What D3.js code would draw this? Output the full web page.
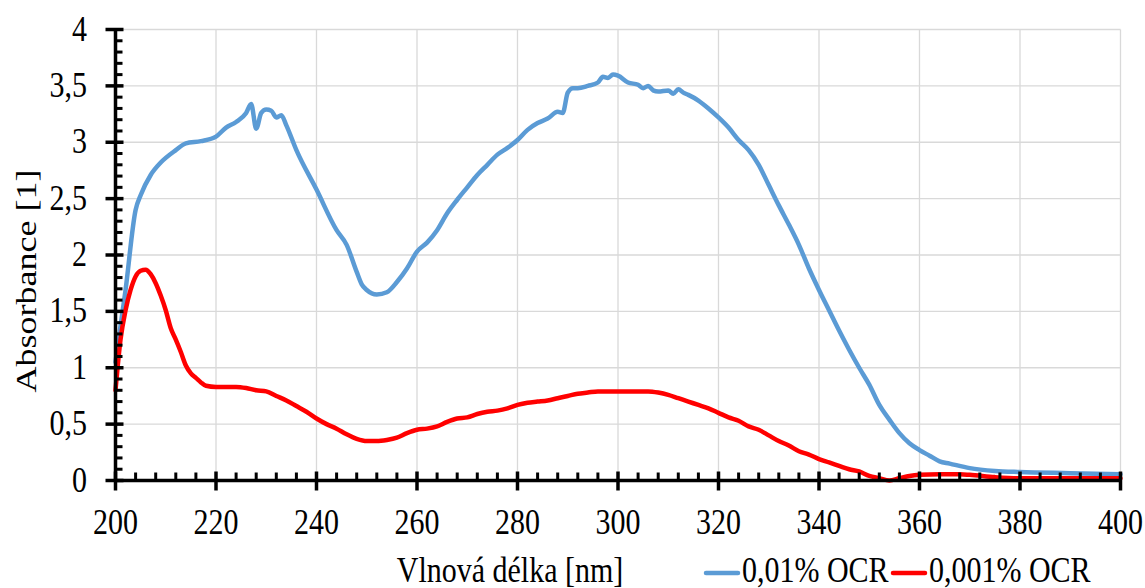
<!DOCTYPE html>
<html><head><meta charset="utf-8">
<script src="https://cdn.jsdelivr.net/npm/d3@7"></script>
<style>
html,body{margin:0;padding:0;background:#fff;}
</style></head>
<body><svg id="c" width="1145" height="588"></svg>
<script>
const wlBlue = [200,202,204,205,207,209,212,214,217,220,222,224,226,227,228,229,230,231,232,233,234,236,240,244,246,248,249,250,252,254,256,258,260,262,264,266,268,270,272,274,276,278,280,282,284,286,288,289,290,291,292,294,296,297,298,299,300,302,304,305,306,307,308,310,311,312,313,314,316,318,320,322,324,326,328,330,332,334,336,338,340,342,344,346,348,350,352,354,356,358,360,362,364,366,370,375,380,390,400];
const absBlue = [1.05,1.69,2.4,2.53,2.71,2.82,2.93,2.99,3.01,3.05,3.13,3.18,3.26,3.34,3.12,3.26,3.29,3.28,3.22,3.24,3.15,2.93,2.58,2.22,2.09,1.85,1.74,1.69,1.65,1.67,1.76,1.88,2.03,2.11,2.22,2.37,2.49,2.60,2.71,2.80,2.89,2.95,3.02,3.11,3.17,3.21,3.27,3.26,3.44,3.48,3.48,3.50,3.53,3.58,3.57,3.60,3.59,3.53,3.51,3.48,3.50,3.46,3.45,3.46,3.43,3.47,3.44,3.42,3.37,3.30,3.22,3.13,3.02,2.93,2.80,2.62,2.44,2.27,2.09,1.88,1.69,1.51,1.33,1.16,1.0,0.85,0.67,0.54,0.42,0.33,0.27,0.22,0.17,0.15,0.11,0.085,0.075,0.065,0.055];
const wlRed = [200,201,202,203,204,205,206,207,208,209,210,211,212,213,214,215,216,217,218,220,224,226,228,230,232,234,236,238,240,242,244,246,248,250,252,254,256,258,260,262,264,266,268,270,272,274,276,278,280,282,284,286,288,290,292,294,296,298,300,302,304,306,308,310,312,314,316,318,320,322,324,326,328,330,332,334,336,338,340,342,344,346,348,350,352,354,356,358,360,364,368,370,375,380,390,400];
const absRed = [0.8,1.25,1.51,1.69,1.81,1.86,1.87,1.83,1.75,1.64,1.51,1.35,1.25,1.14,1.02,0.95,0.91,0.87,0.84,0.83,0.83,0.82,0.80,0.79,0.75,0.71,0.66,0.61,0.55,0.50,0.46,0.41,0.37,0.35,0.35,0.36,0.38,0.42,0.45,0.46,0.48,0.52,0.55,0.56,0.59,0.61,0.62,0.64,0.67,0.69,0.70,0.71,0.73,0.75,0.77,0.78,0.79,0.79,0.79,0.79,0.79,0.79,0.78,0.76,0.73,0.70,0.67,0.64,0.60,0.56,0.53,0.48,0.45,0.40,0.35,0.31,0.26,0.23,0.19,0.16,0.13,0.10,0.08,0.04,0.02,0.0,0.02,0.04,0.05,0.055,0.055,0.05,0.03,0.02,0.02,0.02];
const xTicks = [200,220,240,260,280,300,320,340,360,380,400];
const yTicks = [0,0.5,1,1.5,2,2.5,3,3.5,4];
const seriesNames = ["0,01% OCR","0,001% OCR"];
const seriesColors = ["#5B9BD5","#FF0000"];
const xTitle = "Vlnová délka [nm]";
const yTitle = "Absorbance [1]";

const svg = d3.select("#c");
const L=115.5, R=1120.5, T=29.5, B=480.5;
const x = d3.scaleLinear().domain([200,400]).range([L,R]);
const y = d3.scaleLinear().domain([0,4]).range([B,T]);
const fmt = v => String(v).replace(".", ",");
const SY = 1.2; // vertical stretch of the reference's lettering

function label(g, tx, ty, str, anchor, rot){
  return g.append("text")
    .attr("transform", `translate(${tx},${ty})` + (rot?" rotate(-90) scale("+SY+",1)":" scale(1,"+SY+")"))
    .attr("text-anchor", anchor)
    .style("font-family","'Liberation Serif'")
    .style("font-size","30px").style("fill","#000").text(str);
}

// grid
svg.append("g").selectAll("line").data(xTicks.slice(1)).join("line")
  .attr("x1",d=>x(d)).attr("x2",d=>x(d)).attr("y1",T).attr("y2",B)
  .attr("stroke","#d9d9d9").attr("stroke-width",1.3);
svg.append("g").selectAll("line").data(yTicks.slice(1)).join("line")
  .attr("x1",L).attr("x2",R).attr("y1",d=>y(d)).attr("y2",d=>y(d))
  .attr("stroke","#d9d9d9").attr("stroke-width",1.3);

// series
const line = d3.line().x(d=>x(d[0])).y(d=>y(d[1])).curve(d3.curveMonotoneX);
const blue = wlBlue.map((w,i)=>[w,absBlue[i]]);
const red = wlRed.map((w,i)=>[w,absRed[i]]);
[blue, red].forEach((s,i)=>{
  svg.append("path").datum(s).attr("d",line).attr("fill","none")
    .attr("stroke",seriesColors[i]).attr("stroke-width",4.5)
    .attr("stroke-linejoin","round").attr("stroke-linecap","round");
});

// axes
const yMinor = d3.range(0,4.0001,0.1).filter(v=>Math.abs(v*2-Math.round(v*2))>1e-6);
const xMinor = d3.range(200,400.001,4).filter(v=>v%20!==0);
const ax = svg.append("g").attr("stroke","#000");
ax.append("line").attr("x1",L).attr("x2",L).attr("y1",T-1).attr("y2",B+1.5).attr("stroke-width",3.5);
ax.append("line").attr("x1",L-1.5).attr("x2",R+1).attr("y1",B).attr("y2",B).attr("stroke-width",3.5);
ax.selectAll(".ym").data(yTicks).join("line").attr("x1",L-10).attr("x2",L+8)
  .attr("y1",d=>y(d)).attr("y2",d=>y(d)).attr("stroke-width",3.5);
ax.selectAll(".yn").data(yMinor).join("line").attr("x1",L).attr("x2",L+7)
  .attr("y1",d=>y(d)).attr("y2",d=>y(d)).attr("stroke-width",3);
ax.selectAll(".xm").data(xTicks).join("line").attr("y1",B-9).attr("y2",B+10)
  .attr("x1",d=>x(d)).attr("x2",d=>x(d)).attr("stroke-width",3.5);
ax.selectAll(".xn").data(xMinor).join("line").attr("y1",B).attr("y2",B-8)
  .attr("x1",d=>x(d)).attr("x2",d=>x(d)).attr("stroke-width",3);

// tick labels
const gy = svg.append("g");
yTicks.forEach(d=>label(gy, 87, y(d)+11, fmt(d), "end"));
const gx = svg.append("g");
xTicks.forEach(d=>label(gx, x(d), 534, String(d), "middle"));

// titles
label(svg, 510, 582, xTitle, "middle");
label(svg, 36, 281, yTitle, "middle", true);

// legend
const lg = svg.append("g");
const lx = [706, 893];
seriesNames.forEach((n,i)=>{
  lg.append("line").attr("x1",lx[i]).attr("x2",lx[i]+32).attr("y1",573).attr("y2",573)
    .attr("stroke",seriesColors[i]).attr("stroke-width",4.5).attr("stroke-linecap","round");
  label(lg, lx[i]+36, 582, n, "start");
});
</script></body></html>
